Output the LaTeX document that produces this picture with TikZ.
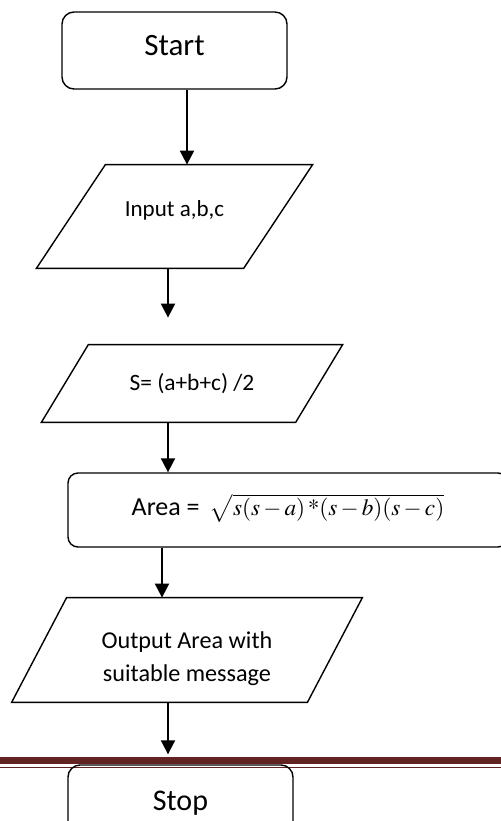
\documentclass[tikz,border=0pt]{standalone}
\usepackage{mathptmx}
\usepackage[no-math]{fontspec}
\setmainfont{Carlito}
\usetikzlibrary{arrows.meta,calc}
\definecolor{rulered}{RGB}{98,36,35}
\newcommand\slantframe[2]{%
  \draw[line width=0.7pt] ($(#1.north west)+(#2,0)$) -- ($(#1.north east)+(#2,0)$)
    -- ($(#1.south east)-(#2,0)$) -- ($(#1.south west)-(#2,0)$) -- cycle;}
\newcommand\timesast{\mbox{\fontencoding{OT1}\fontfamily{ptm}\selectfont *}}

\begin{document}
\begin{tikzpicture}[
  x=0.5pt, y=-0.5pt,
  >={Triangle[width=7pt,length=7pt]},
  term/.style={draw, line width=0.7pt, rounded corners=6pt, minimum width=112.5pt, minimum height=38.5pt, inner sep=0pt},
  io/.style={inner sep=0pt, align=center},
  proc/.style={draw, line width=0.7pt, rounded corners=5pt, inner sep=0pt},
  arr/.style={->, line width=1pt}
]
\useasboundingbox (0,0) rectangle (501,821);
\clip (0,0) rectangle (501,821);

\draw[rulered, line width=3.5pt] (0,760.5) -- (501,760.5);
\draw[rulered, line width=0.6pt] (0,767.5) -- (501,767.5);

\node[term, text depth=5pt, font=\fontsize{15.5}{18}\selectfont] (start) at (174.5,50.5) {Start};
\node[io, minimum width=103.25pt, minimum height=51.5pt, text depth=8pt,
  font=\fontsize{11.5}{14}\selectfont] (input) at (174.5,216.5) {Input a,b,c};
\node[io, minimum width=126.75pt, minimum height=38.5pt,
  font=\fontsize{11.7}{14}\selectfont] (half) at (192,383.5) {S= (a+b+c) /2};
\node[proc, minimum width=220pt, minimum height=37pt, text depth=5pt, font=\fontsize{13}{16}\selectfont] (area) at (288,510)
  {Area = \,{\fontsize{11.6}{14}\selectfont$\sqrt{s(s-a)\,\timesast(s-b)(s-c)}$}};
\node[io, minimum width=147.5pt, minimum height=52pt, text height=34pt,
  font=\fontsize{12.1}{16.5}\selectfont] (output) at (187,650) {Output Area with\\suitable message};
\node[term, font=\fontsize{15}{18}\selectfont] (stop) at (180.5,803.5) {Stop};

\slantframe{input}{34.5}
\slantframe{half}{23.5}
\slantframe{output}{27.5}

\draw[arr] ($(start.south)+(12.5,0)$) coordinate (a1) -- (a1 |- input.north);
\draw[arr, shorten >=13.5pt] ($(input.south)+(-6.5,0)$) coordinate (a2) -- (a2 |- half.north);
\draw[arr] ($(half.south)+(-24,0)$) coordinate (a3) -- (a3 |- area.north);
\draw[arr] ($(area.south)+(-126,0)$) coordinate (a4) -- (a4 |- output.north);
\draw[arr, shorten >=5pt] ($(output.south)+(-19,0)$) coordinate (a5) -- (a5 |- stop.north);
\end{tikzpicture}
\end{document}
